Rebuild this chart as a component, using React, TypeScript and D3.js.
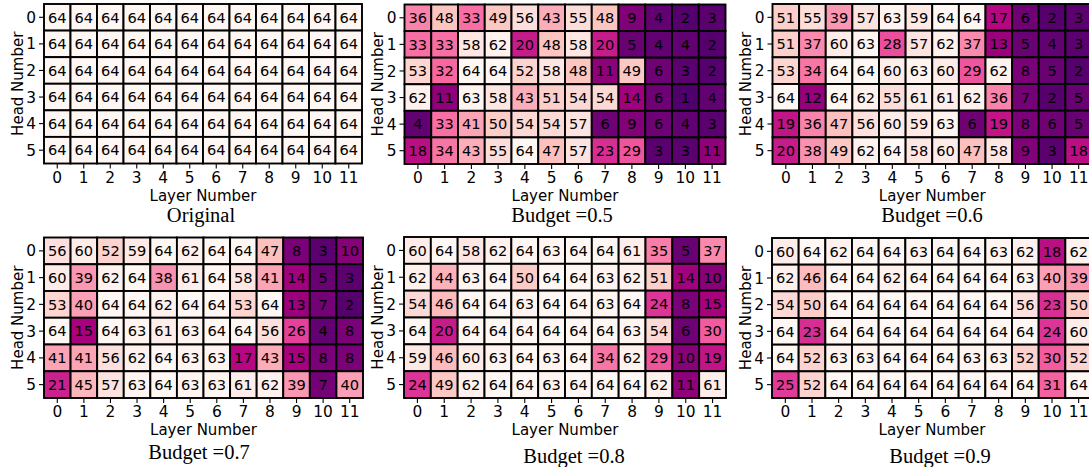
import React from 'react';
import * as d3 from 'd3';

// ---------- data ----------
const layers = ['0', '1', '2', '3', '4', '5', '6', '7', '8', '9', '10', '11'];
const heads = ['0', '1', '2', '3', '4', '5'];
const titles = ['Original', 'Budget =0.5', 'Budget =0.6', 'Budget =0.7', 'Budget =0.8', 'Budget =0.9'];

const original = [
  [64, 64, 64, 64, 64, 64, 64, 64, 64, 64, 64, 64],
  [64, 64, 64, 64, 64, 64, 64, 64, 64, 64, 64, 64],
  [64, 64, 64, 64, 64, 64, 64, 64, 64, 64, 64, 64],
  [64, 64, 64, 64, 64, 64, 64, 64, 64, 64, 64, 64],
  [64, 64, 64, 64, 64, 64, 64, 64, 64, 64, 64, 64],
  [64, 64, 64, 64, 64, 64, 64, 64, 64, 64, 64, 64],
];
const budget05 = [
  [36, 48, 33, 49, 56, 43, 55, 48, 9, 4, 2, 3],
  [33, 33, 58, 62, 20, 48, 58, 20, 5, 4, 4, 2],
  [53, 32, 64, 64, 52, 58, 48, 11, 49, 6, 3, 2],
  [62, 11, 63, 58, 43, 51, 54, 54, 14, 6, 1, 4],
  [4, 33, 41, 50, 54, 54, 57, 6, 9, 6, 4, 3],
  [18, 34, 43, 55, 64, 47, 57, 23, 29, 3, 3, 11],
];
const budget06 = [
  [51, 55, 39, 57, 63, 59, 64, 64, 17, 6, 2, 3],
  [51, 37, 60, 63, 28, 57, 62, 37, 13, 5, 4, 3],
  [53, 34, 64, 64, 60, 63, 60, 29, 62, 8, 5, 2],
  [64, 12, 64, 62, 55, 61, 61, 62, 36, 7, 2, 5],
  [19, 36, 47, 56, 60, 59, 63, 6, 19, 8, 6, 5],
  [20, 38, 49, 62, 64, 58, 60, 47, 58, 9, 3, 18],
];
const budget07 = [
  [56, 60, 52, 59, 64, 62, 64, 64, 47, 8, 3, 10],
  [60, 39, 62, 64, 38, 61, 64, 58, 41, 14, 5, 3],
  [53, 40, 64, 64, 62, 64, 64, 53, 64, 13, 7, 2],
  [64, 15, 64, 63, 61, 63, 64, 64, 56, 26, 4, 8],
  [41, 41, 56, 62, 64, 63, 63, 17, 43, 15, 8, 8],
  [21, 45, 57, 63, 64, 63, 63, 61, 62, 39, 7, 40],
];
const budget08 = [
  [60, 64, 58, 62, 64, 63, 64, 64, 61, 35, 5, 37],
  [62, 44, 63, 64, 50, 64, 64, 63, 62, 51, 14, 10],
  [54, 46, 64, 64, 63, 64, 64, 63, 64, 24, 8, 15],
  [64, 20, 64, 64, 64, 64, 64, 64, 63, 54, 6, 30],
  [59, 46, 60, 63, 64, 63, 64, 34, 62, 29, 10, 19],
  [24, 49, 62, 64, 64, 63, 64, 64, 64, 62, 11, 61],
];
const budget09 = [
  [60, 64, 62, 64, 64, 63, 64, 64, 63, 62, 18, 62],
  [62, 46, 64, 64, 62, 64, 64, 64, 64, 63, 40, 39],
  [54, 50, 64, 64, 64, 64, 64, 64, 64, 56, 23, 50],
  [64, 23, 64, 64, 64, 64, 64, 64, 64, 64, 24, 60],
  [64, 52, 63, 63, 64, 64, 64, 63, 63, 52, 30, 52],
  [25, 52, 64, 64, 64, 64, 64, 64, 64, 64, 31, 64],
];
const panelValues = [original, budget05, budget06, budget07, budget08, budget09];

// ---------- style / layout ----------
const W = 1089;
const H = 467;
const FONT = '"DejaVu Sans", sans-serif';
const SERIF = '"Liberation Serif", "Times New Roman", serif';
const RDPU = ['#fff7f3', '#fde0dd', '#fcc5c0', '#fa9fb5', '#f768a1', '#dd3497', '#ae017e', '#7a0177', '#49006a'];
const VMIN = 0;
const VMAX = 64;

const boxes = [
  { x0: 44, x1: 362, y0: 4, y1: 163.5, tx: 201, ty: 222 },
  { x0: 404.5, x1: 725.5, y0: 4.5, y1: 164, tx: 562, ty: 222 },
  { x0: 772.5, x1: 1092, y0: 4, y1: 164, tx: 932, ty: 222 },
  { x0: 44, x1: 363, y0: 237.5, y1: 398, tx: 199, ty: 459 },
  { x0: 404, x1: 726, y0: 237, y1: 398, tx: 574, ty: 462.5 },
  { x0: 772, x1: 1092, y0: 238, y1: 398, tx: 940, ty: 462.5 },
];

const color = d3
  .scaleLinear<string>()
  .domain(RDPU.map((_, i) => VMAX - (i * (VMAX - VMIN)) / (RDPU.length - 1)))
  .range(RDPU)
  .clamp(true);

function Panel({ values, title, box }: { values: number[][]; title: string; box: typeof boxes[number] }) {
  const x = d3.scaleBand<string>().domain(layers).range([box.x0, box.x1]).padding(0);
  const y = d3.scaleBand<string>().domain(heads).range([box.y0, box.y1]).padding(0);
  const bw = x.bandwidth();
  const bh = y.bandwidth();
  const cx = (box.x0 + box.x1) / 2;
  const cy = (box.y0 + box.y1) / 2;
  return (
    <g>
      {values.map((row, r) =>
        row.map((v, c) => (
          <rect
            key={`c${r}-${c}`}
            x={x(layers[c])}
            y={y(heads[r])}
            width={bw}
            height={bh}
            fill={color(v)}
            stroke="#000"
            strokeWidth={1.9}
          />
        ))
      )}
      {values.map((row, r) =>
        row.map((v, c) => (
          <text
            key={`t${r}-${c}`}
            x={(x(layers[c]) as number) + bw / 2}
            y={(y(heads[r]) as number) + bh / 2}
            dy="0.36em"
            textAnchor="middle"
            fontFamily={FONT}
            fontSize={14.6}
            fill="#000"
          >
            {v}
          </text>
        ))
      )}
      {/* x ticks */}
      {layers.map((l) => {
        const px = (x(l) as number) + bw / 2;
        return (
          <g key={`xt${l}`}>
            <line x1={px} x2={px} y1={box.y1} y2={box.y1 + 5} stroke="#000" strokeWidth={1.1} />
            <text x={px} y={box.y1 + 19} textAnchor="middle" fontFamily={FONT} fontSize={15.4} fill="#000">
              {l}
            </text>
          </g>
        );
      })}
      {/* y ticks */}
      {heads.map((h) => {
        const py = (y(h) as number) + bh / 2;
        return (
          <g key={`yt${h}`}>
            <line x1={box.x0 - 5} x2={box.x0} y1={py} y2={py} stroke="#000" strokeWidth={1.1} />
            <text x={box.x0 - 8} y={py} dy="0.36em" textAnchor="end" fontFamily={FONT} fontSize={15.4} fill="#000">
              {h}
            </text>
          </g>
        );
      })}
      <text x={cx} y={box.y1 + 37} textAnchor="middle" fontFamily={FONT} fontSize={15} fill="#000">
        Layer Number
      </text>
      <text
        transform={`translate(${box.x0 - 21.5},${cy}) rotate(-90)`}
        textAnchor="middle"
        fontFamily={FONT}
        fontSize={15}
        fill="#000"
      >
        Head Number
      </text>
      <text x={box.tx} y={box.ty} textAnchor="middle" fontFamily={SERIF} fontSize={20.5} fill="#000">
        {title}
      </text>
    </g>
  );
}

export default function App() {
  return (
    <svg
      width={W}
      height={H}
      viewBox={`0 0 ${W} ${H}`}
      style={{ position: 'fixed', left: 0, top: 0, background: '#fff' }}
    >
      <rect x={0} y={0} width={W} height={H} fill="#fff" />
      {panelValues.map((vals, i) => (
        <Panel key={i} values={vals} title={titles[i]} box={boxes[i]} />
      ))}
    </svg>
  );
}
